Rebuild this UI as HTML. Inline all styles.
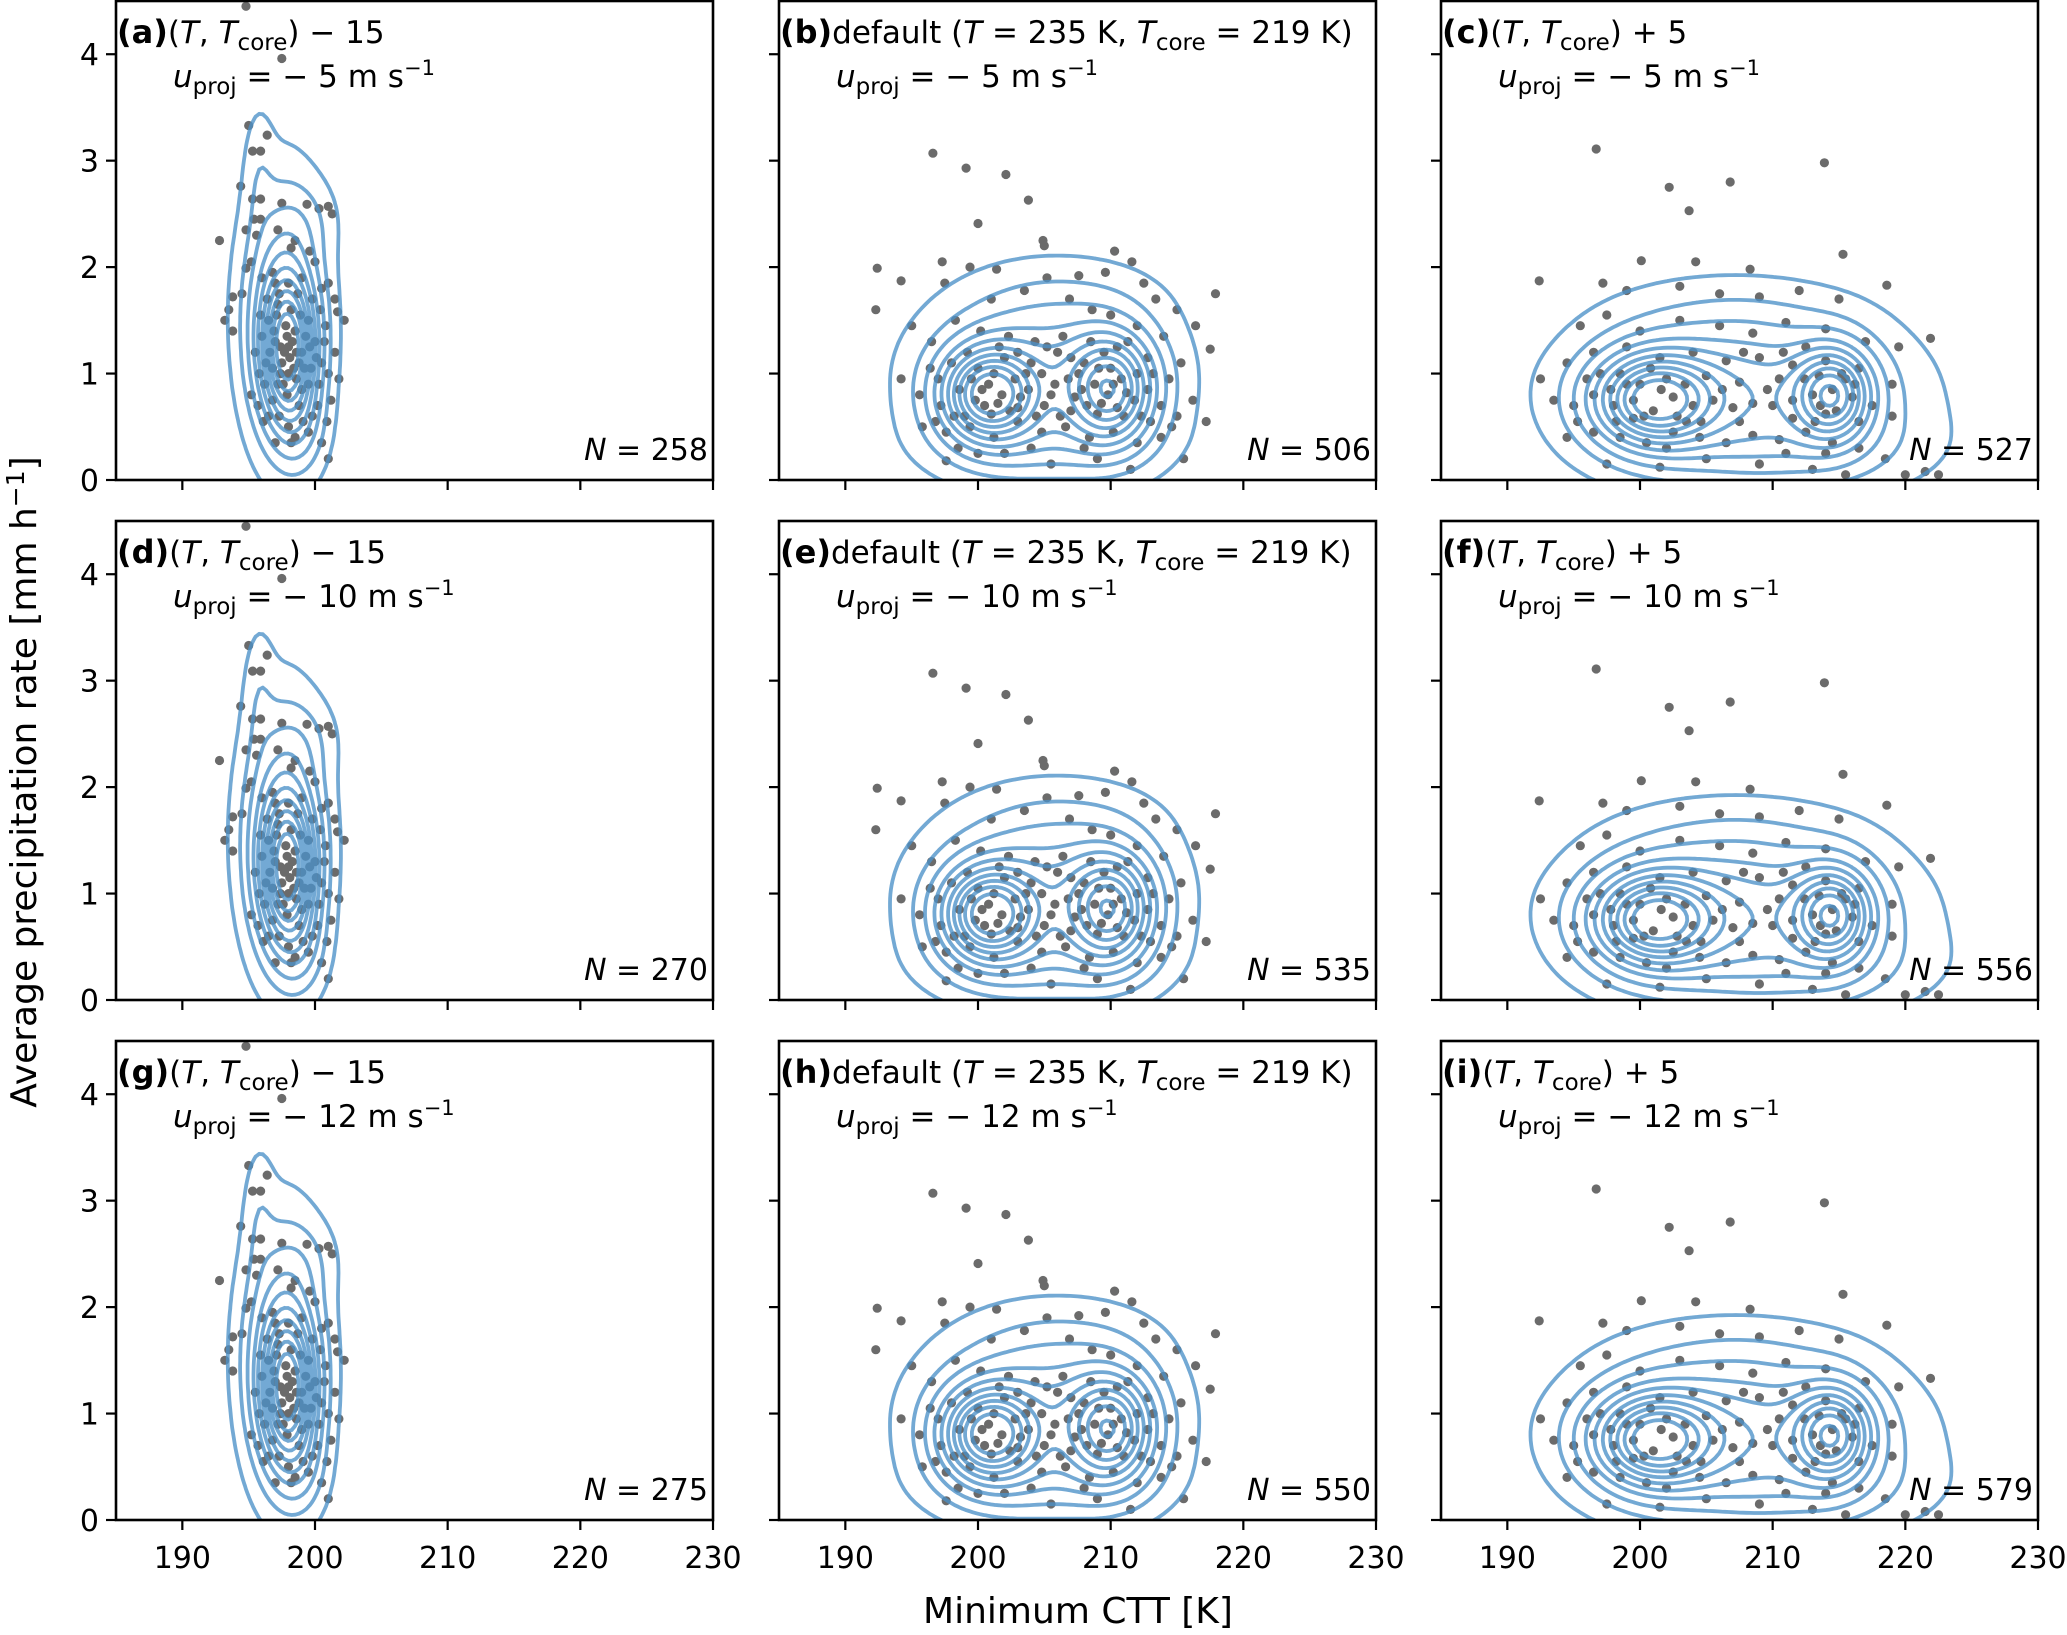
<!DOCTYPE html>
<html><head><meta charset="utf-8"><style>
html,body{margin:0;padding:0;background:#fff;}
svg{display:block;font-family:"DejaVu Sans","Liberation Sans",sans-serif;}
</style></head><body>
<svg id="fig" width="2067" height="1635" viewBox="0 0 2067 1635" xmlns="http://www.w3.org/2000/svg"></svg>
<script>
// ---------- data ----------
const xTicks = [190, 200, 210, 220, 230];
const yTicks = [0, 1, 2, 3, 4];
const panelLetters = [["a","b","c"],["d","e","f"],["g","h","i"]];
const rowWinds = ["5","10","12"];
const panelCounts = [[258,506,527],[270,535,556],[275,550,579]];
// gaussian mixture parameters for KDE contours, per column: [cx, cy, sx, sy, weight]
const kdeColA = [[198,1.2,1.3,0.45,1],[197.6,1.55,1.8,0.7,0.5],[195.8,2.9,0.75,0.4,0.07],[199.5,2.45,1.5,0.25,0.06],[199,0.5,1.2,0.3,0.12]];
const kdeColB = [[200.8,0.8,2.3,0.28,1],[210,0.85,2.1,0.33,0.85],[205,1.0,5,0.45,0.4],[207,1.7,4.5,0.25,0.05],[205,0.35,5,0.25,0.15]];
const kdeColC = [[201,0.75,2.9,0.28,1],[214.5,0.8,1.9,0.28,0.85],[207.5,0.85,6.5,0.4,0.5],[207,1.55,6,0.25,0.06],[210,0.3,6.5,0.28,0.18]];
const contourLevels = [0.025,0.08,0.15,0.24,0.33,0.43,0.53,0.63,0.73,0.84];
// scatter points per column
const ptsColA = [[194.8,4.45],[197.5,3.96],[195,3.33],[196.4,3.24],[195.3,3.09],[195.9,3.09],[194.4,2.76],[195.3,2.64],[195.9,2.64],[197.5,2.6],[199.4,2.59],[200.3,2.55],[201,2.57],[201.3,2.5],[192.8,2.25],[194.8,2.35],[195.4,2.45],[195.9,2.45],[195.6,2.3],[197.2,2.35],[198.5,2.25],[199.6,2.15],[198.2,2.18],[195.2,2.05],[194.8,1.99],[194.5,1.75],[193.5,1.6],[193.8,1.72],[193.2,1.5],[193.8,1.4],[196,1.9],[197,1.85],[198,1.85],[199,1.9],[200.5,1.8],[201,1.85],[201.7,1.58],[202.2,1.5],[201.5,1.7],[196.5,1.5],[197,1.3],[197.5,1.1],[198,1.0],[198.5,1.4],[199,1.2],[199.5,0.9],[200,1.3],[200.5,1.1],[201,1.0],[201.5,1.2],[201.8,0.95],[195.5,1.2],[195.2,0.8],[195.7,0.7],[196.2,0.9],[196.8,0.75],[197.3,0.6],[198,0.5],[198.5,0.4],[199.5,0.45],[200.5,0.35],[201,0.2],[200.2,0.7],[198.8,0.7],[197.8,1.45],[198.2,1.6],[197.2,1.65],[196.3,1.1],[199.5,1.5],[200.8,1.45],[196,1.35],[197.6,0.9],[199.2,1.05],[200.3,0.9],[197,0.35],[198.2,0.35],[198,1.25],[198.3,1.3],[198.1,1.15],[197.9,1.35],[198.4,1.05],[197.7,1.2],[198.6,1.2],[196.6,1.2],[199.3,1.35],[199.8,1.7],[196.8,1.95],[200,2.05],[195.9,1.55],[197.4,1.0],[199,0.85],[200.7,1.3],[196.5,0.6],[199.8,0.6],[201.2,0.75],[195.8,1.0],[198.9,1.55],[197.1,1.55],[200.1,1.15],[196.9,1.4],[197.3,1.75],[198.7,1.75],[199.6,1.25],[200.4,1.6],[196.4,1.7],[197.9,0.8],[198.6,0.95],[196.1,0.55],[199.1,0.55],[200.9,0.55],[197.4,1.25],[198.8,1.1],[197.2,0.9],[199.7,1.05],[196.8,1.05]];
const ptsColB = [[196.6,3.07],[199.1,2.93],[202.1,2.87],[203.8,2.63],[200,2.41],[204.9,2.25],[205,2.2],[192.4,1.99],[194.2,1.87],[192.3,1.6],[210.3,2.15],[217.9,1.75],[217.5,1.23],[217.2,0.55],[215.5,0.2],[197.6,0.18],[197.3,2.05],[199.4,2.0],[201.4,1.98],[205.2,1.9],[207.6,1.92],[209.6,1.95],[211.6,2.05],[212.5,1.85],[213.4,1.7],[215,1.6],[216.4,1.45],[197.5,1.85],[201,1.7],[203.5,1.78],[206.9,1.7],[208.6,1.6],[210,1.55],[212,1.45],[214,1.35],[195,1.45],[196.5,1.3],[198.3,1.5],[200.2,1.4],[202.3,1.35],[204.3,1.3],[206.4,1.35],[208.5,1.3],[210.5,1.25],[212.8,1.15],[215.3,1.1],[194.2,0.95],[195.6,0.8],[197.2,0.7],[198.6,0.85],[199.8,0.75],[200.8,0.9],[201.8,0.8],[202.8,0.95],[203.8,0.85],[204.8,1.0],[205.8,0.9],[206.8,0.95],[207.8,0.85],[208.8,0.9],[209.8,0.8],[210.8,0.95],[211.8,0.75],[212.8,0.85],[213.8,0.7],[215,0.6],[216.2,0.75],[195.8,0.5],[197.6,0.45],[199.4,0.5],[201.2,0.4],[203,0.55],[204.8,0.45],[206.6,0.5],[208.4,0.4],[210.2,0.45],[212,0.35],[213.8,0.4],[198.5,0.3],[202,0.25],[205.5,0.15],[209,0.2],[211.5,0.1],[196.4,1.05],[198,1.1],[200,1.05],[202,1.15],[204,1.1],[206,1.2],[208,1.1],[210,1.05],[212,1.0],[199,0.6],[201,0.62],[203,0.68],[205,0.7],[207,0.65],[209,0.62],[211,0.6],[200.3,0.85],[201.5,0.72],[203.2,0.78],[205.5,0.8],[207.3,0.78],[209.3,0.72],[210.5,0.68],[199.5,0.95],[200.5,0.7],[201.2,1.0],[202.4,0.65],[203.6,1.0],[204.4,0.6],[206.2,0.6],[207.6,1.0],[208.2,0.7],[209.1,1.05],[210.2,0.9],[211.2,0.82],[212.3,0.6],[198.2,0.6],[197,0.95],[196.8,0.55],[199.2,1.2],[201.6,1.25],[203,1.2],[205.2,1.25],[207,1.15],[209.5,1.2],[211.3,1.3],[213.2,1.0],[214.4,0.95],[214.6,0.5],[213,0.55],[208,0.3],[204,0.3],[200,0.25]];
const ptsColC = [[196.7,3.11],[202.2,2.75],[203.7,2.53],[206.8,2.8],[213.9,2.98],[215.3,2.12],[192.4,1.87],[218.6,1.83],[221.9,1.33],[200.1,2.06],[204.2,2.05],[208.3,1.98],[197.2,1.85],[199,1.78],[203,1.82],[206,1.75],[209,1.72],[212,1.78],[215,1.7],[192.5,0.95],[195.5,1.45],[197.5,1.55],[200,1.4],[203,1.5],[206,1.45],[208.5,1.38],[211,1.48],[214,1.42],[217,1.3],[219.5,1.25],[194.5,1.1],[196.5,1.2],[199,1.25],[201.5,1.15],[204,1.2],[206.5,1.12],[209,1.15],[211.5,1.08],[214,1.12],[216.5,1.05],[219,0.9],[193.5,0.75],[195,0.7],[196.5,0.8],[198,0.7],[199.5,0.75],[201,0.65],[202.5,0.78],[204,0.7],[205.5,0.75],[207,0.68],[208.5,0.72],[210,0.7],[211.5,0.75],[213,0.8],[214.5,0.85],[216,0.78],[217.5,0.7],[219,0.6],[194.5,0.4],[196.5,0.45],[198.5,0.4],[200.5,0.35],[202.5,0.45],[204.5,0.4],[206.5,0.35],[208.5,0.42],[210.5,0.38],[212.5,0.45],[214.5,0.35],[216.5,0.3],[218.5,0.2],[220,0.05],[221.5,0.08],[222.5,0.05],[197.5,0.15],[201.5,0.12],[205,0.2],[209,0.15],[213,0.1],[215.5,0.05],[200,0.9],[202,0.95],[205,0.98],[207.5,0.92],[210.5,0.95],[213.5,0.98],[215.5,0.95],[197,1.0],[199.5,0.58],[203.5,0.55],[207.5,0.55],[211.5,0.58],[214,0.62],[216.5,0.55],[198.5,1.0],[212.5,1.25],[199,0.9],[200.3,0.6],[201.6,0.85],[202.8,0.6],[203.4,0.9],[198.2,0.55],[196,0.95],[195.3,0.55],[213.6,0.7],[214.8,0.65],[215.2,1.0],[213.2,0.55],[216.2,0.9],[212.4,0.95],[209.6,0.85],[206.2,0.85],[204.6,0.55],[207.8,1.2],[210.8,1.2],[200.8,1.05],[197.8,0.85],[202,0.3],[211,0.25],[214,0.25]];
const colKde = [kdeColA, kdeColB, kdeColC];
const colPts = [ptsColA, ptsColB, ptsColC];

// ---------- layout ----------
const NS = "http://www.w3.org/2000/svg";
const svg = document.getElementById('fig');
const colL = [116, 779, 1441], rowT = [1, 521, 1041], W = 597, H = 479;
const X0 = 185, X1 = 230, Y0 = 0, Y1 = 4.5;
function mk(tag, attrs, parent){const e=document.createElementNS(NS,tag);for(const k in attrs)e.setAttribute(k,attrs[k]);(parent||svg).appendChild(e);return e;}
function dens(m,x,y){let s=0;for(const g of m){const dx=(x-g[0])/g[2],dy=(y-g[1])/g[3];s+=g[4]*Math.exp(-0.5*(dx*dx+dy*dy));}return s;}

function contourPath(m, sx, sy){
  const nx=180, ny=140, gx0=183, gx1=232, gy0=-1.2, gy1=4.6;
  const vals=[]; let mx=0;
  for(let j=0;j<=ny;j++){const r=[];for(let i=0;i<=nx;i++){const v=dens(m,gx0+(gx1-gx0)*i/nx,gy0+(gy1-gy0)*j/ny);r.push(v);if(v>mx)mx=v;}vals.push(r);}
  let d='';
  for(const lf of contourLevels){
    const L=lf*mx;
    for(let j=0;j<ny;j++)for(let i=0;i<nx;i++){
      const xa=gx0+(gx1-gx0)*i/nx, xb=gx0+(gx1-gx0)*(i+1)/nx, ya=gy0+(gy1-gy0)*j/ny, yb=gy0+(gy1-gy0)*(j+1)/ny;
      const a=vals[j][i], b=vals[j][i+1], c=vals[j+1][i+1], e=vals[j+1][i];
      const p=[];
      if((a-L)*(b-L)<0){const t=(L-a)/(b-a);p.push([xa+t*(xb-xa),ya]);}
      if((b-L)*(c-L)<0){const t=(L-b)/(c-b);p.push([xb,ya+t*(yb-ya)]);}
      if((c-L)*(e-L)<0){const t=(L-e)/(c-e);p.push([xa+t*(xb-xa),yb]);}
      if((e-L)*(a-L)<0){const t=(L-a)/(e-a);p.push([xa,ya+t*(yb-ya)]);}
      for(let k=0;k+1<p.length;k+=2){d+='M'+sx(p[k][0]).toFixed(1)+' '+sy(p[k][1]).toFixed(1)+'L'+sx(p[k+1][0]).toFixed(1)+' '+sy(p[k+1][1]).toFixed(1);}
    }
  }
  return d;
}

function tspans(parent, parts){
  for(const p of parts){const t=mk('tspan',p.a||{},parent);t.textContent=p.t;}
}

for(let r=0;r<3;r++)for(let c=0;c<3;c++){
  const L=colL[c], T=rowT[r];
  const sx=v=>L+(v-X0)/(X1-X0)*W, sy=v=>T+(Y1-v)/(Y1-Y0)*H;
  const g=mk('g',{});
  
  
  const cid='clip'+r+c;
  const cp=mk('clipPath',{id:cid},g); mk('rect',{x:L,y:T,width:W,height:H},cp);
  const pg=mk('g',{'clip-path':'url(#'+cid+')'},g);
  
  
  for(const p of colPts[c]){
    const ci=mk('circle',{cx:sx(p[0]).toFixed(1),cy:sy(p[1]).toFixed(1),r:4.6,fill:'#6b6b6b'},pg);
    
    
  }
  const cpath=mk('path',{d:contourPath(colKde[c],sx,sy),fill:'none',stroke:'rgba(75,145,200,0.78)','stroke-width':3.8,'stroke-linecap':'round','clip-path':'url(#'+cid+')'},g);
  
  
  const frame=mk('rect',{x:L,y:T,width:W,height:H,fill:'none',stroke:'#000','stroke-width':2.6},g);
  
  
  for(const v of xTicks){
    mk('line',{x1:sx(v),x2:sx(v),y1:T+H,y2:T+H+10,stroke:'#000','stroke-width':2.2},g);
    if(r===2){const t=mk('text',{x:sx(v),y:T+H+48,'font-size':30,'text-anchor':'middle',fill:'#000'},g);t.textContent=v;
      
      }
  }
  for(const v of yTicks){
    mk('line',{x1:L-10,x2:L,y1:sy(v),y2:sy(v),stroke:'#000','stroke-width':2.2},g);
    if(c===0){const t=mk('text',{x:L-17,y:sy(v)+11,'font-size':30,'text-anchor':'end',fill:'#000'},g);t.textContent=v;
      
      }
  }
  // title line 1
  const t1=mk('text',{x:L+1,y:T+42,'font-size':31,fill:'#000'},g);
  
  
  const lab={t:'('+panelLetters[r][c]+')',a:{'font-weight':'bold','font-size':32}};
  const sub={'font-size':23,dy:7}, up={dy:-7};
  if(c===1){
    tspans(t1,[lab,{t:'default ('},{t:'T',a:{'font-style':'italic'}},{t:' = 235 K, '},{t:'T',a:{'font-style':'italic'}},{t:'core',a:sub},{t:' = 219 K)',a:up}]);
  } else {
    tspans(t1,[lab,{t:'('},{t:'T',a:{'font-style':'italic'}},{t:', '},{t:'T',a:{'font-style':'italic'}},{t:'core',a:sub},{t:(c===0?') − 15':') + 5'),a:up}]);
  }
  const t2=mk('text',{x:L+57,y:T+86,'font-size':31,fill:'#000'},g);
  
  
  tspans(t2,[{t:'u',a:{'font-style':'italic'}},{t:'proj',a:sub},{t:' = − '+rowWinds[r]+' m s',a:{dy:-7}},{t:'−1',a:{'font-size':21,dy:-12}}]);
  const t3=mk('text',{x:L+W-5,y:T+H-20,'font-size':30,'text-anchor':'end',fill:'#000'},g);
  
  
  tspans(t3,[{t:'N',a:{'font-style':'italic'}},{t:' = '+panelCounts[r][c]}]);
}
const xl=mk('text',{x:1078,y:1623,'font-size':36,'text-anchor':'middle',fill:'#000'});


xl.textContent='Minimum CTT [K]';
const yl=mk('text',{x:0,y:0,'font-size':36,'text-anchor':'middle',fill:'#000',transform:'translate(36,782) rotate(-90)'});


tspans(yl,[{t:'Average precipitation rate [mm h'},{t:'−1',a:{'font-size':25,dy:-12}},{t:']',a:{dy:12}}]);
</script>
</body></html>
